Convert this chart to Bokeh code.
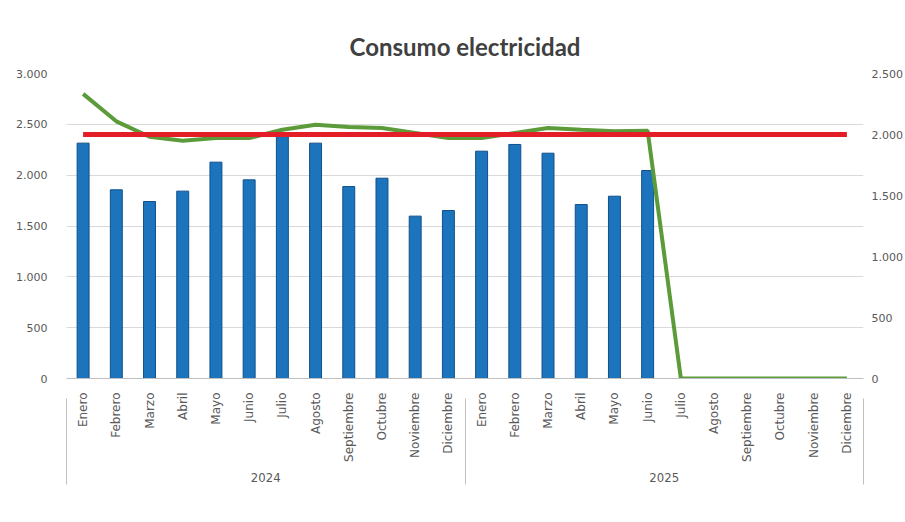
import math
from bokeh.plotting import figure
from bokeh.models import (FactorRange, Range1d, LinearAxis, FixedTicker, Legend, LegendItem, Title)
from bokeh.embed import file_html
from bokeh.resources import INLINE

years = ["2024"] * 12 + ["2025"] * 12
months = ["Enero", "Febrero", "Marzo", "Abril", "Mayo", "Junio", "Julio", "Agosto",
          "Septiembre", "Octubre", "Noviembre", "Diciembre"] * 2
kw = [2315, 1856, 1741, 1843, 2128, 1954, 2400, 2315, 1888, 1970, 1597, 1652,
      2236, 2302, 2216, 1711, 1793, 2046,
      float("nan"), float("nan"), float("nan"), float("nan"), float("nan"), float("nan")]
promedio = [2333, 2108, 1982, 1949, 1971, 1971, 2039, 2080, 2062, 2053, 2012, 1971,
            1971, 2012, 2053, 2039, 2026, 2031, 0, 0, 0, 0, 0, 0]
limite = [2000] * 24
left_ticks = [0, 500, 1000, 1500, 2000, 2500, 3000]
left_labels = ["0", "500", "1.000", "1.500", "2.000", "2.500", "3.000"]
right_ticks = [0, 500, 1000, 1500, 2000, 2500]
right_labels = ["0", "500", "1.000", "1.500", "2.000", "2.500"]

factors = list(zip(years, months))

p = figure(frame_width=797, frame_height=305, output_backend="svg", toolbar_location=None,
           x_range=FactorRange(*factors, range_padding=0, factor_padding=0, group_padding=0),
           y_range=Range1d(0, 3000), min_border_left=66, min_border_right=0,
           min_border_top=73, min_border_bottom=0)
p.extra_y_ranges = {"right": Range1d(0, 2500)}
p.outline_line_color = None
p.background_fill_color = "white"
p.border_fill_color = "white"

title = Title(text="Consumo electricidad", align="center", text_font="Lato",
              text_font_size="24px", text_font_style="bold", text_color="#404040", standoff=25)
p.add_layout(title, "above")

# left axis
ya = p.yaxis[0]
ya.ticker = FixedTicker(ticks=left_ticks)
ya.major_label_overrides = {t: l for t, l in zip(left_ticks, left_labels)}
ya.axis_line_color = None
ya.major_tick_line_color = None
ya.minor_tick_line_color = None
ya.major_label_standoff = 13
ya.major_label_text_font = "DejaVu Sans"
ya.major_label_text_font_size = "11px"
ya.major_label_text_color = "#595959"

# right axis
ra = LinearAxis(y_range_name="right", ticker=FixedTicker(ticks=right_ticks))
ra.major_label_overrides = {t: l for t, l in zip(right_ticks, right_labels)}
ra.axis_line_color = None
ra.major_tick_line_color = None
ra.minor_tick_line_color = None
ra.major_label_standoff = 2
ra.major_label_text_font = "DejaVu Sans"
ra.major_label_text_font_size = "11px"
ra.major_label_text_color = "#595959"
p.add_layout(ra, "right")

xa = p.xaxis[0]
xa.major_label_orientation = math.pi / 2
xa.major_label_standoff = 8
xa.major_label_text_font = "DejaVu Sans"
xa.major_label_text_font_size = "12px"
xa.major_label_text_color = "#595959"
xa.group_text_font = "DejaVu Sans Condensed"
xa.group_text_font_size = "13px"
xa.group_text_color = "#595959"
xa.group_text_font_style = "normal"
xa.group_text_line_height = 1.6
xa.axis_line_color = "#BFBFBF"
xa.major_tick_line_color = None
xa.separator_line_color = None

# boundary lines between year groups (drawn as long inward ticks of a label-less axis)
sep = LinearAxis(ticker=FixedTicker(ticks=[0, 12, 24]))
sep.axis_line_color = None
sep.minor_tick_line_color = None
sep.major_tick_out = 0
sep.major_tick_in = 86
sep.major_tick_line_color = "#BFBFBF"
sep.major_label_standoff = 0
sep.axis_label_standoff = 0
sep.major_label_text_font_size = "1px"
sep.major_label_text_color = None
p.add_layout(sep, "below")

p.xgrid.grid_line_color = None
p.ygrid.ticker = FixedTicker(ticks=left_ticks)
p.ygrid.grid_line_color = "#D9D9D9"

bars = p.vbar(x=factors, top=kw, width=0.36, fill_color="#1C75BC", line_color="#0F4F8C", line_width=1)
green = p.line(x=factors, y=promedio, y_range_name="right", line_color="#5B9B3A", line_width=4)
red = p.line(x=factors, y=limite, y_range_name="right", line_color="#E41E26", line_width=5)

legend = Legend(items=[LegendItem(label="Kw", renderers=[bars]),
                       LegendItem(label="Promedio Consumo KW 12 meses", renderers=[green]),
                       LegendItem(label="Lim. Superior", renderers=[red])],
                orientation="horizontal", location="top_center", border_line_color=None,
                background_fill_alpha=0,
                label_text_font="DejaVu Sans Condensed", label_text_font_size="13px",
                label_text_color="#595959", glyph_width=30, glyph_height=9, spacing=20,
                label_standoff=3, padding=4, margin=0, label_height=14)
p.add_layout(legend, "below")

open("out.html", "w").write(file_html(p, INLINE))
